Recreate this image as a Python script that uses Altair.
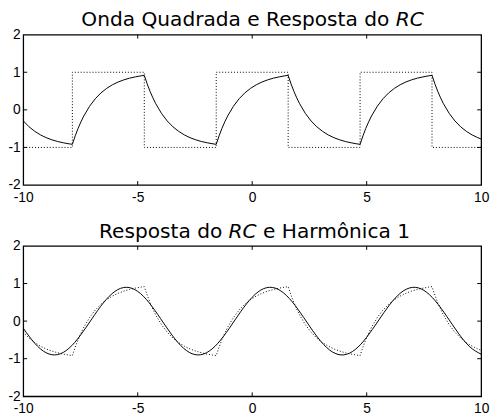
import altair as alt
import pandas as pd

# ---- data ----
# square wave input (dotted, top panel)
sq_x = [-10, -7.854, -7.854, -4.712, -4.712, -1.571, -1.571, 1.571, 1.571, 4.712, 4.712, 7.854, 7.854, 10]
sq_y = [-1, -1, 1, 1, -1, -1, 1, 1, -1, -1, 1, 1, -1, -1]

# RC response (solid in top panel, dotted in bottom panel)
rc_x = [
    -10.0, -9.746, -9.496, -9.246, -8.996, -8.746, -8.496, -8.246, -7.996,
    -7.854, -7.729, -7.604, -7.479, -7.354, -7.104, -6.854, -6.604, -6.354, -6.104, -5.854, -5.604, -5.354, -5.104, -4.854,
    -4.712, -4.587, -4.462, -4.337, -4.212, -3.962, -3.712, -3.462, -3.212, -2.962, -2.712, -2.462, -2.212, -1.962, -1.712,
    -1.571, -1.446, -1.321, -1.196, -1.071, -0.821, -0.571, -0.321, -0.071, 0.179, 0.429, 0.679, 0.929, 1.179, 1.429,
    1.571, 1.696, 1.821, 1.946, 2.071, 2.321, 2.571, 2.821, 3.071, 3.321, 3.571, 3.821, 4.071, 4.321, 4.571,
    4.712, 4.837, 4.962, 5.087, 5.212, 5.462, 5.712, 5.962, 6.212, 6.462, 6.712, 6.962, 7.212, 7.462, 7.712,
    7.854, 7.979, 8.104, 8.229, 8.354, 8.604, 8.854, 9.104, 9.354, 9.604, 9.854, 10.0,
]
rc_y = [
    -0.292, -0.451, -0.572, -0.667, -0.741, -0.798, -0.843, -0.877, -0.905,
    -0.917, -0.692, -0.493, -0.318, -0.163, 0.094, 0.295, 0.451, 0.572, 0.667, 0.741, 0.798, 0.843, 0.877, 0.905,
    0.917, 0.692, 0.493, 0.318, 0.163, -0.094, -0.295, -0.451, -0.572, -0.667, -0.741, -0.798, -0.843, -0.877, -0.905,
    -0.917, -0.692, -0.493, -0.318, -0.163, 0.094, 0.295, 0.451, 0.572, 0.667, 0.741, 0.798, 0.843, 0.877, 0.905,
    0.917, 0.692, 0.493, 0.318, 0.163, -0.094, -0.295, -0.451, -0.572, -0.667, -0.741, -0.798, -0.843, -0.877, -0.905,
    -0.917, -0.692, -0.493, -0.318, -0.163, 0.094, 0.295, 0.451, 0.572, 0.667, 0.741, 0.798, 0.843, 0.877, 0.905,
    0.917, 0.692, 0.493, 0.318, 0.163, -0.094, -0.295, -0.451, -0.572, -0.667, -0.741, -0.776,
]

# first harmonic (solid, bottom panel)
h_x = [-10, -9.5, -9, -8.5, -8, -7.5, -7, -6.5, -6, -5.5, -5, -4.5, -4, -3.5, -3, -2.5, -2, -1.5, -1, -0.5,
       0, 0.5, 1, 1.5, 2, 2.5, 3, 3.5, 4, 4.5, 5, 5.5, 6, 6.5, 7, 7.5, 8, 8.5, 9, 9.5, 10]
h_y = [-0.188, -0.587, -0.842, -0.891, -0.722, -0.376, 0.062, 0.485, 0.789, 0.900, 0.791, 0.488, 0.066,
       -0.373, -0.720, -0.891, -0.843, -0.590, -0.192, 0.253, 0.636, 0.864, 0.879, 0.680, 0.314, -0.129,
       -0.540, -0.819, -0.898, -0.756, -0.430, 0.002, 0.433, 0.758, 0.898, 0.818, 0.537, 0.125, -0.318,
       -0.682, -0.880]

x_ticks = [-10, -5, 0, 5, 10]
y_ticks = [-2, -1, 0, 1, 2]
inner_x_ticks = [-5, 0, 5]
inner_y_ticks = [-1, 0, 1]

title_top = ["Onda Quadrada e Resposta do", "RC"]
title_bottom = ["Resposta do", "RC", "e Harmônica 1"]

# ---- layout / style ----
W, H = 466, 153
TFONT = "DejaVu Sans"
TSIZE = 20.5
LBL = "'' + datum.value"   # plain hyphen-minus labels

xs = alt.Scale(domain=[-10, 10], nice=False, zero=False)
ys = alt.Scale(domain=[-2, 2], nice=False, zero=False)
xa = alt.Axis(values=x_ticks, title=None, labelFlush=False, labelPadding=6, labelExpr=LBL)
ya = alt.Axis(values=y_ticks, title=None, labelPadding=3, labelExpr=LBL)


def line(xv, yv, dotted=False, interp="linear"):
    df = pd.DataFrame({"x": xv, "y": yv, "i": list(range(len(xv)))})
    kw = dict(color="black", strokeWidth=1, interpolate=interp, clip=True)
    if dotted:
        kw["strokeDash"] = [1, 2]
    return alt.Chart(df).mark_line(**kw).encode(
        x=alt.X("x:Q", scale=xs, axis=xa),
        y=alt.Y("y:Q", scale=ys, axis=ya),
        order="i:Q",
    )


def ticks():
    dx = pd.DataFrame({"x": inner_x_ticks})
    dy = pd.DataFrame({"y": inner_y_ticks})
    X = alt.X("x:Q", scale=xs, axis=xa)
    Y = alt.Y("y:Q", scale=ys, axis=ya)
    r = dict(color="black", strokeWidth=1)
    return [
        alt.Chart(dx).mark_rule(**r).encode(x=X, y=alt.value(H), y2=alt.value(H - 4)),
        alt.Chart(dx).mark_rule(**r).encode(x=X, y=alt.value(0), y2=alt.value(4)),
        alt.Chart(dy).mark_rule(**r).encode(y=Y, x=alt.value(0), x2=alt.value(4)),
        alt.Chart(dy).mark_rule(**r).encode(y=Y, x=alt.value(W), x2=alt.value(W - 4)),
    ]


def tpart(txt, px, py, align, italic=False):
    kw = dict(font=TFONT, fontSize=TSIZE, align=align, baseline="alphabetic", color="black")
    if italic:
        kw["fontStyle"] = "italic"
    return alt.Chart(pd.DataFrame({"t": [txt]})).mark_text(**kw).encode(
        text="t:N", x=alt.value(px), y=alt.value(py)
    )


top = alt.layer(
    line(sq_x, sq_y, dotted=True),
    line(rc_x, rc_y),
    *ticks(),
    tpart(title_top[0], 372.5, -9, "right"),
    tpart(title_top[1], 379, -9, "left", italic=True),
).properties(width=W, height=H)

bottom = alt.layer(
    line(rc_x, rc_y, dotted=True),
    line(h_x, h_y, interp="natural"),
    *ticks(),
    tpart(title_bottom[0], 202.5, -8, "right"),
    tpart(title_bottom[1], 209, -8, "left", italic=True),
    tpart(title_bottom[2], 244, -8, "left"),
).properties(width=W, height=H)

chart = (
    alt.vconcat(top, bottom, spacing=62, bounds="flush")
    .properties(padding={"left": -1.5, "top": -2.5, "right": 0, "bottom": 0}, background="white")
    .configure_view(stroke="black", strokeWidth=1.3)
    .configure_axis(
        labelFont="Liberation Sans",
        labelFontSize=14,
        labelColor="black",
        domain=False,
        ticks=False,
        tickSize=0,
        grid=False,
    )
)

chart.save("out.html", embed_options={"renderer": "svg", "actions": False})
